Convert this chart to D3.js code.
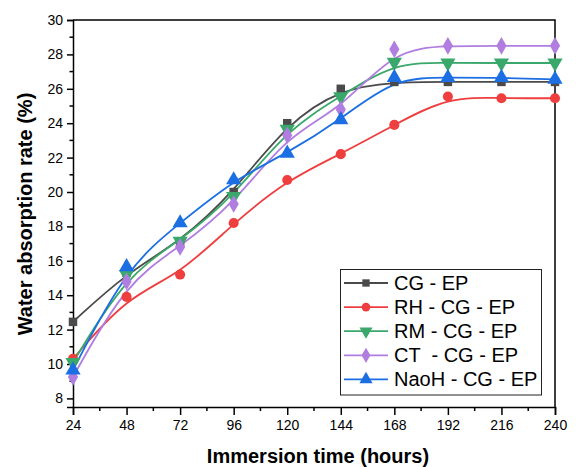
<!DOCTYPE html>
<html>
<head>
<meta charset="utf-8">
<script src="https://cdn.jsdelivr.net/npm/d3@7"></script>
<style>
  body { margin: 0; background: #fff; }
  svg { display: block; font-family: "Liberation Sans", Arial, sans-serif; }
</style>
</head>
<body>
<svg id="chart" width="577" height="467"></svg>
<script>
// Immersion time (hours)
const hours = [24, 48, 72, 96, 120, 144, 168, 192, 216, 240];

// Water absorption rate (%) per composite
const cgEp     = [12.45, 15.3, 17.1, 20.0, 24.0, 26.0, 26.4, 26.4, 26.4, 26.4];
const rhCgEp   = [10.3, 13.9, 15.2, 18.2, 20.7, 22.2, 23.9, 25.55, 25.45, 25.45];
const rmCgEp   = [10.1, 15.2, 17.15, 19.75, 23.65, 25.55, 27.55, 27.5, 27.5, 27.5];
const ctCgEp   = [9.25, 14.8, 16.8, 19.3, 23.3, 24.8, 28.3, 28.5, 28.5, 28.5];
const naohCgEp = [9.65, 15.65, 18.2, 20.7, 22.25, 24.2, 26.65, 26.65, 26.65, 26.55];

const seriesNames = ["CG - EP", "RH - CG - EP", "RM - CG - EP", "CT  - CG - EP", "NaoH - CG - EP"];
const seriesValues = [cgEp, rhCgEp, rmCgEp, ctCgEp, naohCgEp];
const seriesColors = ["#4a4a4a", "#ef3e3e", "#3aa86a", "#b07de0", "#1c6fe3"];
const seriesSymbols = [d3.symbolSquare, d3.symbolCircle, "triDown", d3.symbolDiamond, d3.symbolTriangle];
const symbolSizes = [72, 80, 100, 90, 100];

const xTicks = [24, 48, 72, 96, 120, 144, 168, 192, 216, 240];
const yTicks = [8, 10, 12, 14, 16, 18, 20, 22, 24, 26, 28, 30];

const margin = { left: 73, right: 22, top: 20, bottom: 60 };
const W = 577, H = 467;
const svg = d3.select("#chart");

const x = d3.scaleLinear().domain([24, 240]).range([margin.left, W - margin.right]);
const y = d3.scaleLinear().domain([7.5, 30]).range([H - margin.bottom, margin.top]);

const font = '"Liberation Sans", Arial, sans-serif';

// frame (top and right edges)
svg.append("path")
  .attr("d", `M${x(24)},${y(30)}H${x(240)}V${y(7.5)}`)
  .attr("fill", "none").attr("stroke", "#000").attr("stroke-width", 1.5);

// x axis with minor ticks
const xMinor = d3.range(36, 240, 24);
const gx = svg.append("g").attr("transform", `translate(0,${y(7.5)})`);
gx.call(d3.axisBottom(x).tickValues(xTicks).tickFormat(d3.format("d")).tickSize(8).tickPadding(5));
gx.selectAll(".minor").data(xMinor).join("line")
  .attr("x1", d => x(d)).attr("x2", d => x(d)).attr("y1", 0).attr("y2", 4)
  .attr("stroke", "#000").attr("stroke-width", 1.5);

// y axis with minor ticks
const yMinor = d3.range(9, 30, 2);
const gy = svg.append("g").attr("transform", `translate(${x(24)},0)`);
gy.call(d3.axisLeft(y).tickValues(yTicks).tickFormat(d3.format("d")).tickSize(6).tickPadding(4));
gy.selectAll(".minor").data(yMinor).join("line")
  .attr("x1", 0).attr("x2", -3.5).attr("y1", d => y(d)).attr("y2", d => y(d))
  .attr("stroke", "#000").attr("stroke-width", 1.5);

[gx, gy].forEach(g => {
  g.select(".domain").attr("stroke", "#000").attr("stroke-width", 1.5);
  g.selectAll(".tick line").attr("stroke", "#000").attr("stroke-width", 1.5);
  g.selectAll(".tick text").attr("fill", "#000").style("font-size", "14px").style("font-family", font);
});

// axis titles
svg.append("text")
  .attr("x", 318).attr("y", 463)
  .attr("text-anchor", "middle")
  .style("font-size", "20px").style("font-weight", "bold").style("font-family", font)
  .text("Immersion time (hours)");

svg.append("text")
  .attr("transform", "translate(32,214) rotate(-90)")
  .attr("text-anchor", "middle")
  .style("font-size", "20px").style("font-weight", "bold").style("font-family", font)
  .text("Water absorption rate (%)");

// marker shapes
function markerPath(sym, size) {
  if (sym === "triDown") {
    return d3.symbol().type(d3.symbolTriangle).size(size)();
  }
  return d3.symbol().type(sym).size(size)();
}
function markerTransform(sym, px, py) {
  return sym === "triDown" ? `translate(${px},${py}) rotate(180)` : `translate(${px},${py})`;
}

// smoothed series lines and markers
const line = d3.line()
  .x((d, i) => x(hours[i]))
  .y(d => y(d))
  .curve(d3.curveBasis);

const plot = svg.append("g");
seriesValues.forEach((vals, s) => {
  plot.append("path")
    .attr("d", line(vals))
    .attr("fill", "none")
    .attr("stroke", seriesColors[s])
    .attr("stroke-width", 1.8);
});
seriesValues.forEach((vals, s) => {
  plot.selectAll(null).data(vals).join("path")
    .attr("d", markerPath(seriesSymbols[s], symbolSizes[s]))
    .attr("transform", (d, i) => markerTransform(seriesSymbols[s], x(hours[i]), y(d)))
    .attr("fill", seriesColors[s]);
});

// legend
const lg = svg.append("g");
lg.append("rect")
  .attr("x", 340.5).attr("y", 269.5).attr("width", 201).attr("height", 125.5)
  .attr("fill", "#fff").attr("stroke", "#222").attr("stroke-width", 1);
seriesNames.forEach((name, s) => {
  const cy = 283 + s * 24.1;
  lg.append("line")
    .attr("x1", 344).attr("x2", 388).attr("y1", cy).attr("y2", cy)
    .attr("stroke", seriesColors[s]).attr("stroke-width", 1.8);
  lg.append("path")
    .attr("d", markerPath(seriesSymbols[s], symbolSizes[s] * 0.75))
    .attr("transform", markerTransform(seriesSymbols[s], 366, cy))
    .attr("fill", seriesColors[s]);
  lg.append("text")
    .attr("x", 394).attr("y", cy + 7)
    .style("font-size", "20px").style("font-family", font)
    .style("white-space", "pre")
    .attr("xml:space", "preserve")
    .text(name);
});
</script>
</body>
</html>
